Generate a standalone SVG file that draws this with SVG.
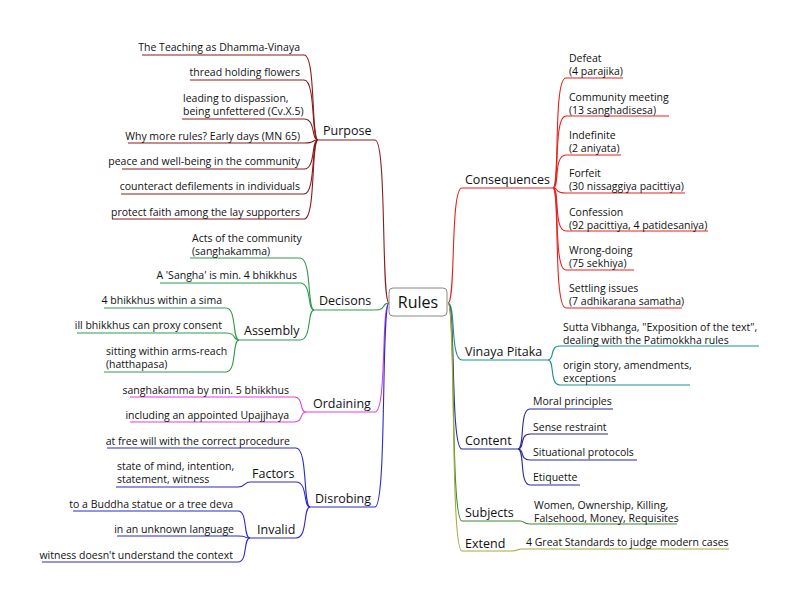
<svg xmlns="http://www.w3.org/2000/svg" width="800" height="603" viewBox="0 0 800 603">
<style>
text{font-family:"Open Sans","DejaVu Sans",sans-serif;fill:#111}
.l{font-size:10.5px}
.m{font-size:12.5px}
.r{font-size:16px}
.e{text-anchor:end}
path{fill:none;stroke-width:1.1}
.pu{stroke:#8b1c1c}.de{stroke:#2e9a4e}.or{stroke:#e040e0}.di{stroke:#2a2ad0}
.co{stroke:#e82020}.vi{stroke:#1f8f8f}.ct{stroke:#2a2a9a}.su{stroke:#3a8a2a}.ex{stroke:#a8a840}
</style>
<rect width="800" height="603" fill="#fff"/>
<g id="connectors">
<!-- right -->
<path class="co" d="M448,303 C456,303 450,188 462,188 L553,188"/>
<path class="co" d="M553,188 C560,188 553,78 566,78 L623,78"/>
<path class="co" d="M553,188 C560,188 553,116 566,116 L669,116"/>
<path class="co" d="M553,188 C560,188 553,155 566,155 L621,155"/>
<path class="co" d="M553,188 C560,188 553,193 566,193 L685,193"/>
<path class="co" d="M553,188 C560,188 553,231 566,231 L708,231"/>
<path class="co" d="M553,188 C560,188 553,270 566,270 L634,270"/>
<path class="co" d="M553,188 C560,188 553,308 566,308 L682,308"/>
<path class="vi" d="M448,303 C456,303 450,360 462,360 L548,360"/>
<path class="vi" d="M548,360 C555,360 549,346 560,346 L759,346"/>
<path class="vi" d="M548,360 C555,360 549,385 560,385 L690,385"/>
<path class="ct" d="M448,303 C456,303 450,449 462,449 L518,449"/>
<path class="ct" d="M518,449 C525,449 519,409 530,409 L613,409"/>
<path class="ct" d="M518,449 C525,449 519,434 530,434 L608,434"/>
<path class="ct" d="M518,449 C525,449 519,460 530,460 L637,460"/>
<path class="ct" d="M518,449 C525,449 519,485 530,485 L580,485"/>
<path class="su" d="M448,303 C456,303 450,521 462,521 L520,521 C526,521 522,524 530,524 L677,524"/>
<path class="ex" d="M448,303 C456,303 450,551 462,551 L512,551 C518,551 516,549 522,549 L729,549"/>
<!-- left -->
<path class="pu" d="M389,303 C381,303 387,140 375,140 L318,140"/>
<path class="pu" d="M318,140 C311,140 316,55 304,55 L142,55"/>
<path class="pu" d="M318,140 C311,140 316,80 304,80 L190,80"/>
<path class="pu" d="M318,140 C311,140 316,119 304,119 L182,119"/>
<path class="pu" d="M318,140 C311,140 316,143 304,143 L128,143"/>
<path class="pu" d="M318,140 C311,140 316,169 304,169 L122,169"/>
<path class="pu" d="M318,140 C311,140 316,194 304,194 L121,194"/>
<path class="pu" d="M318,140 C311,140 316,219 304,219 L112,219"/>
<path class="de" d="M389,303 C381,303 387,310 375,310 L314,310"/>
<path class="de" d="M314,310 C307,310 312,258 300,258 L190,258"/>
<path class="de" d="M314,310 C307,310 312,283 300,283 L160,283"/>
<path class="de" d="M314,310 C307,310 312,340 300,340 L239,340"/>
<path class="de" d="M239,340 C232,340 237,308 226,308 L104,308"/>
<path class="de" d="M239,340 C232,340 237,333 226,333 L77,333"/>
<path class="de" d="M239,340 C232,340 237,372 226,372 L104,372"/>
<path class="or" d="M389,303 C381,303 387,412 375,412 L306,412"/>
<path class="or" d="M306,412 C299,412 304,397 294,397 L130,397"/>
<path class="or" d="M306,412 C299,412 304,422 294,422 L130,422"/>
<path class="di" d="M389,303 C381,303 387,507 375,507 L310,507"/>
<path class="di" d="M310,507 C303,507 308,448 296,448 L107,448"/>
<path class="di" d="M310,507 C303,507 308,482 296,482 L250,482 C244,482 246,487 238,487 L116,487"/>
<path class="di" d="M310,507 C303,507 308,538 296,538 L250,538"/>
<path class="di" d="M250,538 C243,538 248,511 238,511 L73,511"/>
<path class="di" d="M250,538 C243,538 248,536 238,536 L117,536"/>
<path class="di" d="M250,538 C243,538 248,562 238,562 L42,562"/>
</g>
<g id="root"><rect x="389" y="288" width="58" height="28" rx="4" fill="#fff" stroke="#888"/><text class="r" x="418" y="308" text-anchor="middle">Rules</text></g>
<g id="consequences"><text class="m" x="465" y="184">Consequences</text>
<text class="l" x="569" y="62">Defeat<tspan x="569" dy="13">(4 parajika)</tspan></text>
<text class="l" x="569" y="101">Community meeting<tspan x="569" dy="13">(13 sanghadisesa)</tspan></text>
<text class="l" x="569" y="139">Indefinite<tspan x="569" dy="13">(2 aniyata)</tspan></text>
<text class="l" x="569" y="177">Forfeit<tspan x="569" dy="13">(30 nissaggiya pacittiya)</tspan></text>
<text class="l" x="569" y="216">Confession<tspan x="569" dy="13">(92 pacittiya, 4 patidesaniya)</tspan></text>
<text class="l" x="569" y="254">Wrong-doing<tspan x="569" dy="13">(75 sekhiya)</tspan></text>
<text class="l" x="569" y="292">Settling issues<tspan x="569" dy="13">(7 adhikarana samatha)</tspan></text></g>
<g id="vinaya"><text class="m" x="465" y="356">Vinaya Pitaka</text>
<text class="l" x="563" y="331">Sutta Vibhanga, "Exposition of the text",<tspan x="563" dy="13">dealing with the Patimokkha rules</tspan></text>
<text class="l" x="563" y="369">origin story, amendments,<tspan x="563" dy="13">exceptions</tspan></text></g>
<g id="content"><text class="m" x="465" y="445">Content</text>
<text class="l" x="533" y="405">Moral principles</text>
<text class="l" x="533" y="431">Sense restraint</text>
<text class="l" x="533" y="456">Situational protocols</text>
<text class="l" x="533" y="481">Etiquette</text></g>
<g id="subjects"><text class="m" x="465" y="517">Subjects</text>
<text class="l" x="534" y="509">Women, Ownership, Killing,<tspan x="534" dy="13">Falsehood, Money, Requisites</tspan></text></g>
<g id="extend"><text class="m" x="465" y="548">Extend</text>
<text class="l" x="526" y="546">4 Great Standards to judge modern cases</text></g>
<g id="purpose"><text class="m" x="323" y="135">Purpose</text>
<text class="l e" x="300" y="51">The Teaching as Dhamma-Vinaya</text>
<text class="l e" x="300" y="76">thread holding flowers</text>
<text class="l" x="183" y="102">leading to dispassion,<tspan x="183" dy="13">being unfettered (Cv.X.5)</tspan></text>
<text class="l e" x="300" y="140">Why more rules? Early days (MN 65)</text>
<text class="l e" x="300" y="165">peace and well-being in the community</text>
<text class="l e" x="300" y="190">counteract defilements in individuals</text>
<text class="l e" x="300" y="216">protect faith among the lay supporters</text></g>
<g id="decisons"><text class="m" x="319" y="305">Decisons</text>
<text class="l" x="192" y="242">Acts of the community<tspan x="192" dy="13">(sanghakamma)</tspan></text>
<text class="l e" x="297" y="279">A 'Sangha' is min. 4 bhikkhus</text></g>
<g id="assembly"><text class="m" x="244" y="335">Assembly</text>
<text class="l e" x="222" y="304">4 bhikkhus within a sima</text>
<text class="l e" x="222" y="329">ill bhikkhus can proxy consent</text>
<text class="l" x="106" y="355">sitting within arms-reach<tspan x="106" dy="13">(hatthapasa)</tspan></text></g>
<g id="ordaining"><text class="m" x="313" y="408">Ordaining</text>
<text class="l e" x="289" y="394">sanghakamma by min. 5 bhikkhus</text>
<text class="l e" x="289" y="419">including an appointed Upajjhaya</text></g>
<g id="disrobing"><text class="m" x="315" y="503">Disrobing</text>
<text class="l e" x="290" y="445">at free will with the correct procedure</text></g>
<g id="factors"><text class="m" x="252" y="478">Factors</text>
<text class="l" x="117" y="470">state of mind, intention,<tspan x="117" dy="13">statement, witness</tspan></text></g>
<g id="invalid"><text class="m" x="257" y="534">Invalid</text>
<text class="l e" x="233" y="508">to a Buddha statue or a tree deva</text>
<text class="l e" x="234" y="533">in an unknown language</text>
<text class="l e" x="233" y="559">witness doesn't understand the context</text></g>
</svg>
